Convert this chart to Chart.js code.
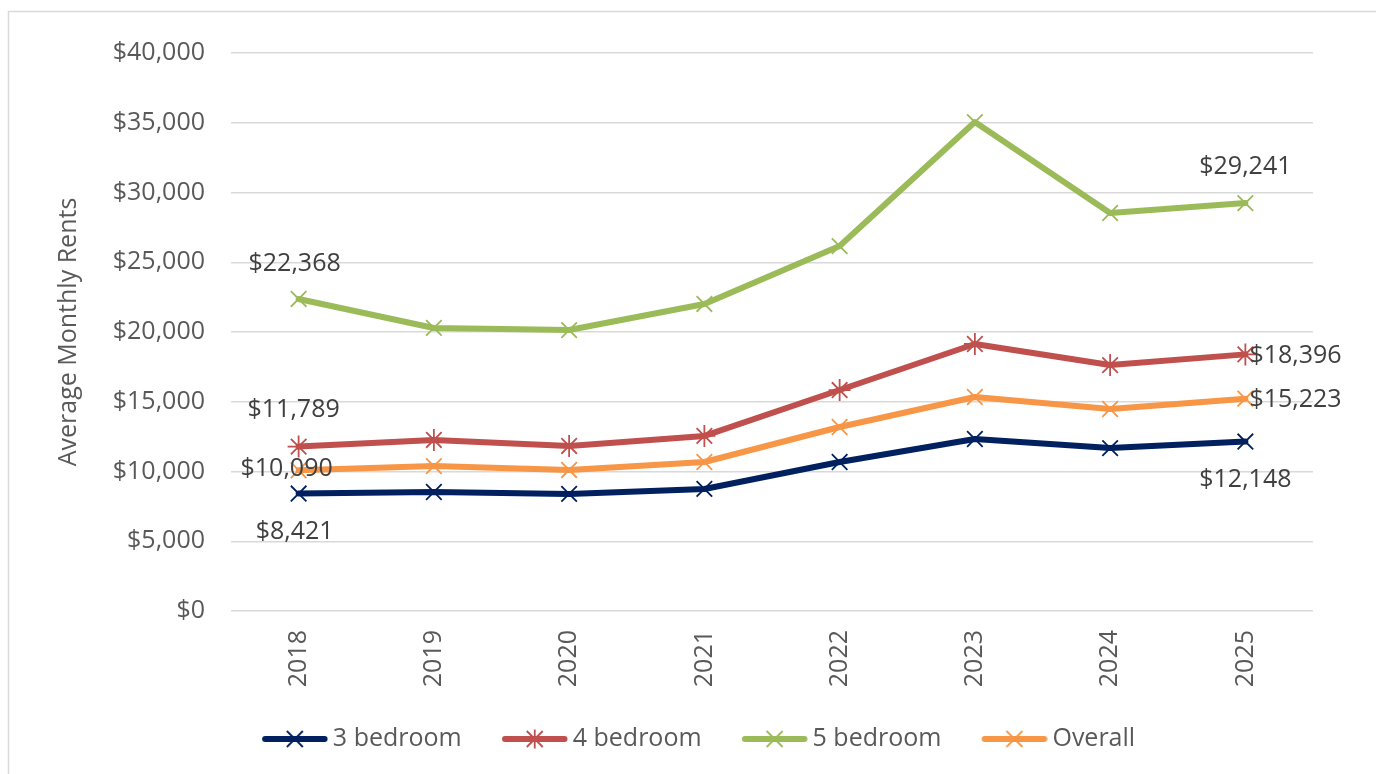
<!DOCTYPE html>
<html><head><meta charset="utf-8">
<script src="https://cdn.jsdelivr.net/npm/chart.js@4.4.1/dist/chart.umd.min.js"></script>
<style>html,body{margin:0;padding:0;background:#fff;overflow:hidden}#wrap{position:relative;width:1376px;height:774px}</style>
</head><body><div id="wrap"><canvas id="c" width="1376" height="774"></canvas></div>
<script>
// ---- data ----
const years = ['2018', '2019', '2020', '2021', '2022', '2023', '2024', '2025'];
const threeBed = [8421, 8530, 8390, 8750, 10680, 12330, 11680, 12148];
const fourBed = [11789, 12260, 11830, 12550, 15840, 19140, 17630, 18396];
const fiveBed = [22368, 20290, 20140, 22010, 26160, 35050, 28530, 29241];
const overall = [10090, 10390, 10110, 10680, 13190, 15340, 14480, 15223];
const seriesNames = ['3 bedroom', '4 bedroom', '5 bedroom', 'Overall'];
const yAxisTitle = 'Average Monthly Rents';
const yMin = 0, yMax = 40000, yStep = 5000;

// ---- style ----
const FONT = "'Open Sans', sans-serif";
const colors = ['#002060', '#C0504D', '#9BBB59', '#F79646'];
const markers = ['crossRot', 'star', 'crossRot', 'crossRot'];
// label placement for first / last point: [dx, dy, align]
const labelPlace = [
  [[-4, 38, 'center'], [0, 38, 'center']],
  [[-5, -37, 'center'], [4, 1, 'left']],
  [[-4, -35, 'center'], [0, -36, 'center']],
  [[-12, -1, 'center'], [4, 1, 'left']]
];
const fmt = v => '$' + Number(v).toLocaleString('en-US');

function legendImage(color, marker) {
  const W = 104, H = 24;
  const cv = document.createElement('canvas');
  cv.width = W; cv.height = H;
  const g = cv.getContext('2d');
  g.strokeStyle = color; g.lineWidth = 6; g.lineCap = 'round';
  g.beginPath(); g.moveTo(41, H / 2); g.lineTo(100.5, H / 2); g.stroke();
  const cx = 70.75, cy = H / 2, r = 8;
  g.lineWidth = 1.8; g.lineCap = 'butt';
  g.beginPath();
  g.moveTo(cx - r, cy - r); g.lineTo(cx + r, cy + r);
  g.moveTo(cx + r, cy - r); g.lineTo(cx - r, cy + r);
  if (marker === 'star') { g.moveTo(cx, cy - r * 1.2); g.lineTo(cx, cy + r * 1.2); }
  g.stroke();
  return cv;
}

const borderPlugin = {
  id: 'frame',
  beforeDraw(chart) {
    const c = chart.ctx;
    c.save();
    c.fillStyle = '#ffffff';
    c.fillRect(0, 0, chart.width, chart.height);
    c.strokeStyle = '#d9d9d9'; c.lineWidth = 1.5;
    c.strokeRect(8.5, 11.5, 2000, 2000);
    c.restore();
  }
};

const labelPlugin = {
  id: 'endLabels',
  afterDatasetsDraw(chart) {
    const c = chart.ctx;
    c.save();
    c.font = '25px ' + FONT;
    c.fillStyle = '#404040';
    c.textBaseline = 'middle';
    chart.data.datasets.forEach((ds, i) => {
      const meta = chart.getDatasetMeta(i);
      const idxs = [0, ds.data.length - 1];
      idxs.forEach((idx, k) => {
        const p = meta.data[idx];
        const [dx, dy, al] = labelPlace[i][k];
        c.textAlign = al;
        c.fillText(fmt(ds.data[idx]), p.x + dx, p.y + dy);
      });
    });
    c.restore();
  }
};

function draw() {
  Chart.defaults.font.family = FONT;
  Chart.defaults.color = '#595959';
  const seriesData = [threeBed, fourBed, fiveBed, overall];
  const imgs = colors.map((c, i) => legendImage(c, markers[i]));
  new Chart(document.getElementById('c'), {
    type: 'line',
    data: {
      labels: years,
      datasets: seriesData.map((d, i) => ({
        label: seriesNames[i],
        data: d,
        borderColor: colors[i],
        backgroundColor: colors[i],
        borderWidth: 6,
        borderJoinStyle: 'round',
        borderCapStyle: 'round',
        tension: 0,
        fill: false,
        pointStyle: markers[i],
        pointRadius: 11,
        pointBorderWidth: 1.8,
        pointBorderColor: colors[i],
        pointBackgroundColor: colors[i],
        order: 4 - i
      }))
    },
    options: {
      responsive: false,
      animation: false,
      devicePixelRatio: 1,
      layout: { padding: { left: 54, top: 53, right: 63, bottom: 12.5 } },
      plugins: {
        tooltip: { enabled: false },
        legend: {
          position: 'bottom',
          align: 'center',
          labels: {
            usePointStyle: true,
            pointStyleWidth: 88.5,
            padding: 10,
            color: '#595959',
            font: { size: 25, family: FONT },
            generateLabels: (chart) => chart.data.datasets.map((ds, i) => ({
              text: ds.label,
              pointStyle: imgs[i],
              datasetIndex: i,
              fillStyle: 'transparent',
              strokeStyle: 'transparent',
              lineWidth: 0,
              hidden: false,
              fontColor: '#595959'
            }))
          }
        }
      },
      scales: {
        x: {
          offset: true,
          grid: { display: false, drawTicks: false, offset: true },
          border: { display: false },
          ticks: { minRotation: 90, maxRotation: 90, padding: 19, color: '#595959', font: { size: 25, family: FONT } },
          afterFit: (s) => { s.height = 105.5; }
        },
        y: {
          min: yMin, max: yMax,
          grid: { color: '#d9d9d9', lineWidth: 1.5, drawTicks: false },
          border: { display: false },
          ticks: { stepSize: yStep, padding: 26, color: '#595959', font: { size: 25, family: FONT }, callback: (v) => fmt(v) },
          title: { display: true, text: yAxisTitle, color: '#595959', padding: 0, font: { size: 25, family: FONT } },
          afterFit: (s) => { s.width = 177; }
        }
      }
    },
    plugins: [borderPlugin, labelPlugin]
  });
}
if (document.fonts && document.fonts.load) {
  document.fonts.load('25px "Open Sans"').then(draw, draw);
} else { draw(); }
</script>
</body></html>
